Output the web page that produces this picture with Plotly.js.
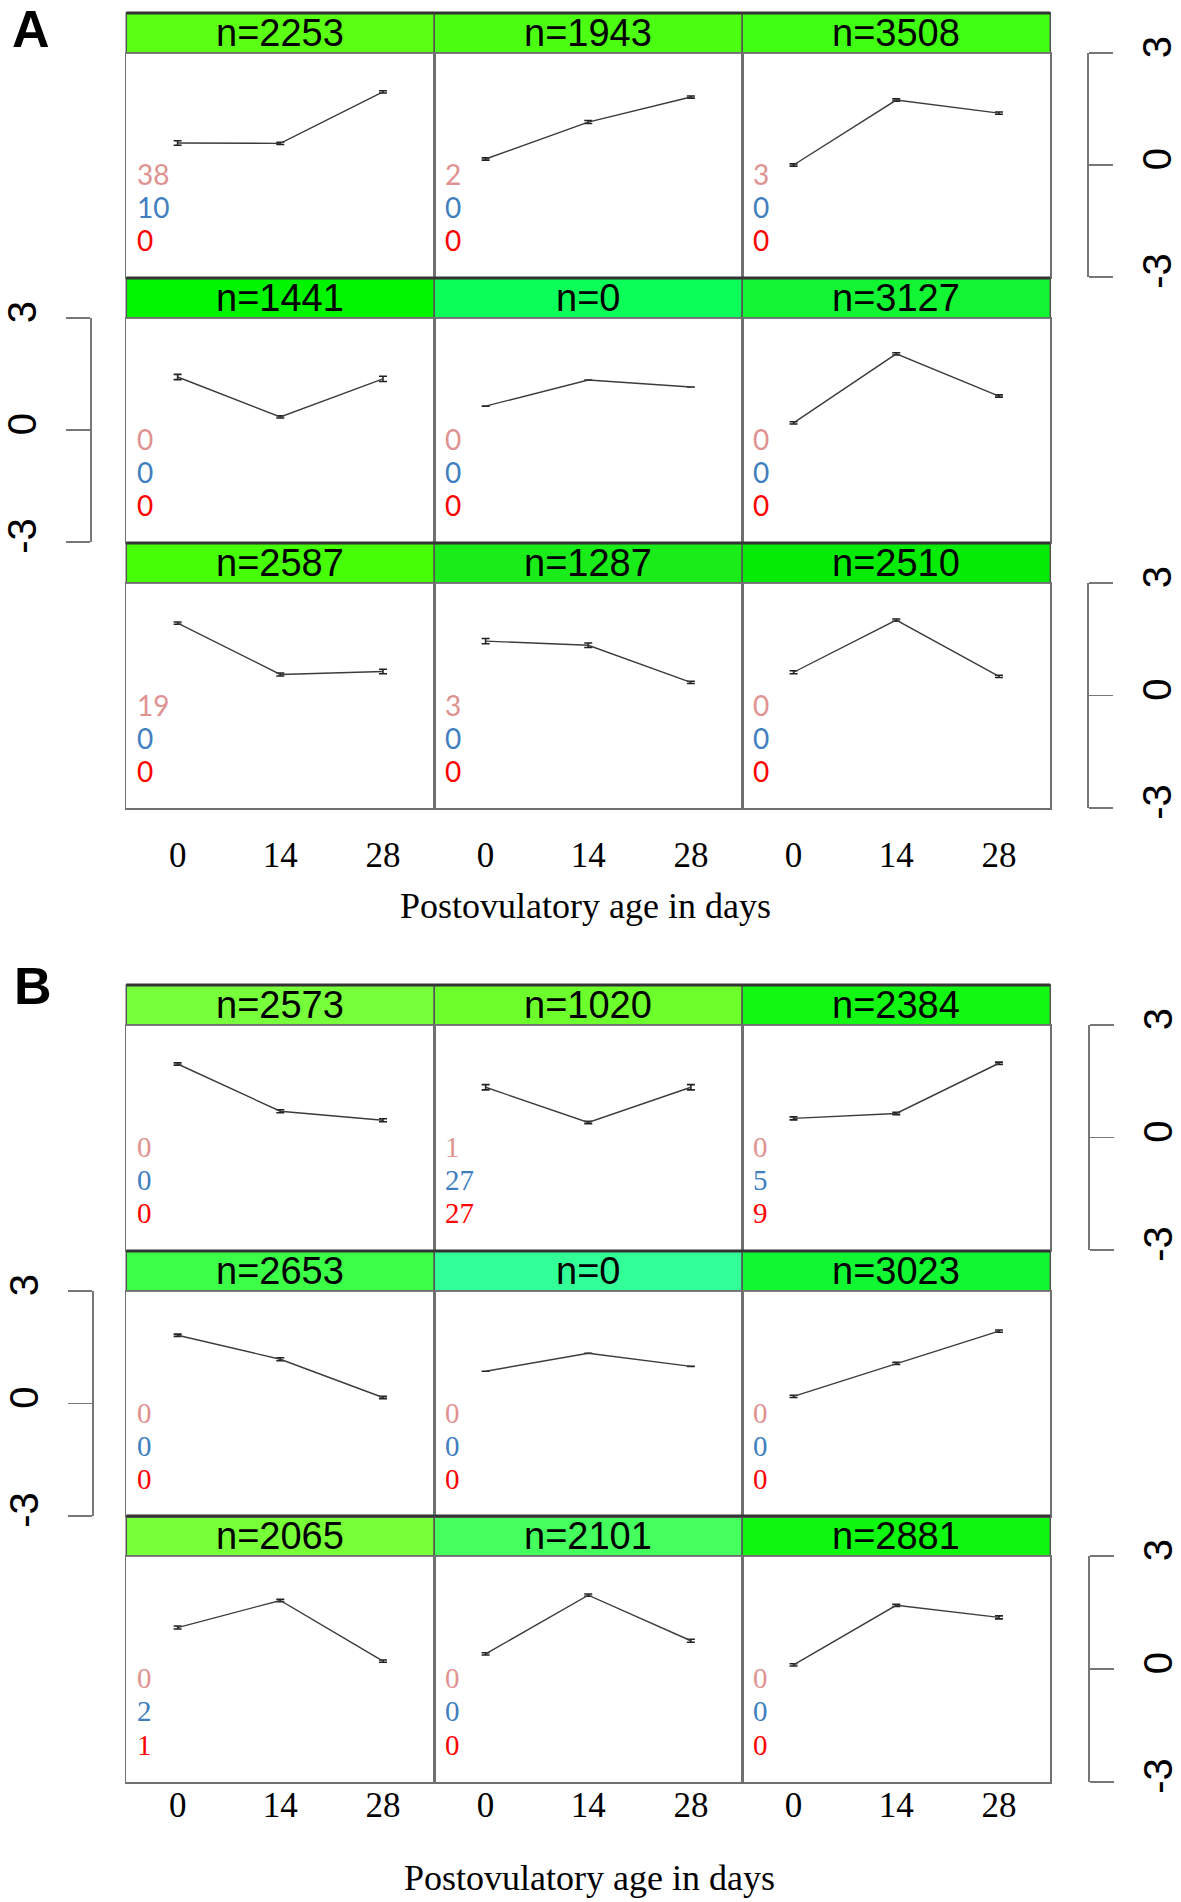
<!DOCTYPE html>
<html>
<head>
<meta charset="utf-8">
<script src="https://cdn.plot.ly/plotly-3.0.1.min.js"></script>
<style>html,body{margin:0;padding:0;background:#fff;}#chart{width:1181px;height:1902px;}</style>
</head>
<body>
<div id="chart"></div>
<script>
// ---------- DATA ----------
const days = [0, 14, 28];
const tickLabels = ['0', '14', '28'];
const yTicks = [-3, 0, 3];

// Panel A (clusters read row by row)
const panelA_n = [2253, 1943, 3508, 1441, 0, 3127, 2587, 1287, 2510];
const panelA_values = [
  [0.59, 0.58, 1.96], [0.16, 1.15, 1.82], [0.00, 1.74, 1.39],
  [1.42, 0.35, 1.37], [0.64, 1.34, 1.15], [0.19, 2.04, 0.91],
  [1.93, 0.56, 0.64], [1.45, 1.34, 0.35], [0.62, 2.01, 0.51]
];
const panelA_err = [
  [0.06, 0.03, 0.03], [0.03, 0.04, 0.03], [0.03, 0.03, 0.03],
  [0.07, 0.03, 0.07], [0.00, 0.00, 0.00], [0.03, 0.03, 0.03],
  [0.03, 0.04, 0.06], [0.07, 0.06, 0.03], [0.04, 0.03, 0.03]
];
const panelA_pink = [38, 2, 3, 0, 0, 0, 19, 3, 0];
const panelA_blue = [10, 0, 0, 0, 0, 0, 0, 0, 0];
const panelA_red  = [0, 0, 0, 0, 0, 0, 0, 0, 0];
const panelA_colors = ['#5aff14', '#4cff12', '#40ff12', '#00f500', '#0cff58', '#12f533', '#46ff06', '#1aec1a', '#06ec06'];

// Panel B
const panelB_n = [2573, 1020, 2384, 2653, 0, 3023, 2065, 2101, 2881];
const panelB_values = [
  [1.96, 0.70, 0.46], [1.34, 0.40, 1.34], [0.51, 0.64, 1.98],
  [1.82, 1.18, 0.16], [0.86, 1.34, 0.99], [0.19, 1.07, 1.93],
  [1.10, 1.82, 0.21], [0.40, 1.96, 0.75], [0.11, 1.69, 1.37]
];
const panelB_err = [
  [0.03, 0.04, 0.04], [0.07, 0.03, 0.07], [0.04, 0.03, 0.03],
  [0.03, 0.04, 0.03], [0.00, 0.00, 0.00], [0.03, 0.03, 0.03],
  [0.04, 0.03, 0.03], [0.03, 0.03, 0.04], [0.03, 0.03, 0.04]
];
const panelB_pink = [0, 1, 0, 0, 0, 0, 0, 0, 0];
const panelB_blue = [0, 27, 5, 0, 0, 0, 2, 0, 0];
const panelB_red  = [0, 27, 9, 0, 0, 0, 1, 0, 0];
const panelB_colors = ['#77ff3c', '#6cff2c', '#12f812', '#3cff48', '#33ff99', '#11f833', '#77ff38', '#44ff5e', '#0ff80f'];

const xTitle = 'Postovulatory age in days';

// ---------- LAYOUT GEOMETRY (pixels) ----------
const W = 1181, H = 1902;
const colEdges = [126.3, 434.3, 742.2, 1050.3];
const rowsA = [[53, 277], [318, 542], [583, 808]];
const rowsB = [[1025, 1250], [1291, 1516], [1556, 1782]];
const headerPx = 40;
const countColors = ['#e09291', '#3f7fc0', '#ff0000'];

const traces = [];
const layout = {
  width: W, height: H,
  margin: {l: 0, r: 0, t: 0, b: 0},
  paper_bgcolor: '#ffffff', plot_bgcolor: '#ffffff',
  showlegend: false,
  shapes: [], annotations: []
};

function px2x(p) { return p / W; }
function px2y(p) { return 1 - p / H; }

let k = 0;
function addPanel(rows, nArr, vals, errs, pink, blue, red, colors, countFont, tickStandoff) {
  for (let i = 0; i < 9; i++) {
    k++;
    const r = Math.floor(i / 3), c = i % 3;
    const xa = 'xaxis' + (k === 1 ? '' : k), ya = 'yaxis' + (k === 1 ? '' : k);
    const xr = 'x' + (k === 1 ? '' : k), yr = 'y' + (k === 1 ? '' : k);
    const plotH = rows[r][1] - rows[r][0];
    layout[xa] = {
      domain: [px2x(colEdges[c]), px2x(colEdges[c + 1])],
      anchor: yr, range: [-7, 35],
      showgrid: false, zeroline: false,
      showline: true, mirror: true, linecolor: '#707070', linewidth: 1.5,
      tickvals: days, ticktext: tickLabels, ticks: '',
      showticklabels: r === 2, ticklabelstandoff: tickStandoff,
      tickfont: {family: 'Liberation Serif, serif', size: 35, color: '#000'}
    };
    layout[ya] = {
      domain: [px2y(rows[r][1]), px2y(rows[r][0])],
      anchor: xr, range: [-3, 3],
      showgrid: false, zeroline: false,
      showline: true, mirror: true, linecolor: '#707070', linewidth: 1.5,
      showticklabels: false, ticks: ''
    };
    traces.push({
      x: days, y: vals[i], xaxis: xr, yaxis: yr,
      type: 'scatter', mode: 'lines',
      line: {color: '#3c3c3c', width: 1.4},
      error_y: {type: 'data', array: errs[i], visible: true, color: '#222', thickness: 1.6, width: 4},
      hoverinfo: 'skip'
    });
    const hTop = 1 + headerPx / plotH;
    layout.shapes.push({
      type: 'rect', xref: xr + ' domain', yref: yr + ' domain',
      x0: 0, x1: 1, y0: 1, y1: hTop,
      fillcolor: colors[i], line: {color: '#555', width: 1.5}, layer: 'below'
    });
    layout.shapes.push({
      type: 'line', xref: xr + ' domain', yref: yr + ' domain',
      x0: 0, x1: 1, y0: hTop, y1: hTop,
      line: {color: '#333', width: 3}
    });
    layout.annotations.push({
      xref: xr + ' domain', yref: yr + ' domain',
      x: 0.5, y: 1 + (headerPx / 2) / plotH, xanchor: 'center', yanchor: 'middle',
      text: 'n=' + nArr[i], showarrow: false,
      font: {family: 'Liberation Sans, Arial, sans-serif', size: 38, color: '#000'}
    });
    const counts = [pink[i], blue[i], red[i]];
    const cy = [0.46, 0.3125, 0.165];
    for (let j = 0; j < 3; j++) {
      layout.annotations.push({
        xref: xr + ' domain', yref: yr + ' domain',
        x: 0.028, y: cy[j], xanchor: 'left', yanchor: 'middle',
        text: String(counts[j]), showarrow: false,
        font: {family: countFont.family, size: countFont.size, color: countColors[j]}
      });
    }
  }
}

addPanel(rowsA, panelA_n, panelA_values, panelA_err, panelA_pink, panelA_blue, panelA_red, panelA_colors,
  {family: 'Lato, sans-serif', size: 28}, 15);
addPanel(rowsB, panelB_n, panelB_values, panelB_err, panelB_pink, panelB_blue, panelB_red, panelB_colors,
  {family: 'Liberation Serif, serif', size: 29}, -9);

// ---------- SIDE SCALE AXES ----------
const sideAxes = [
  {over: 1,  side: 'right', pos: 1087},
  {over: 4,  side: 'left',  pos: 90},
  {over: 7,  side: 'right', pos: 1087},
  {over: 10, side: 'right', pos: 1088},
  {over: 13, side: 'left',  pos: 92},
  {over: 16, side: 'right', pos: 1088}
];
sideAxes.forEach((s, idx) => {
  const n = 19 + idx;
  const overRef = 'y' + (s.over === 1 ? '' : s.over);
  const xRef = 'x' + (s.over === 1 ? '' : s.over);
  layout['yaxis' + n] = {
    overlaying: overRef, anchor: 'free', position: px2x(s.pos), side: s.side,
    range: [-3, 3], tickvals: yTicks, ticktext: yTicks.map(String),
    showgrid: false, zeroline: false,
    showline: true, linecolor: '#777', linewidth: 1.5,
    ticks: 'outside', ticklen: 24, tickwidth: 1.5, tickcolor: '#777',
    tickangle: -90, ticklabelstandoff: s.side === 'right' ? 10 : 14,
    tickfont: {family: 'Liberation Sans, Arial, sans-serif', size: 40, color: '#000'}
  };
  traces.push({x: [null], y: [null], xaxis: xRef, yaxis: 'y' + n, mode: 'lines', hoverinfo: 'skip', showlegend: false});
});

// ---------- TITLES & LETTERS ----------
layout.annotations.push({
  xref: 'paper', yref: 'paper', x: px2x(585), y: px2y(906), xanchor: 'center', yanchor: 'middle',
  text: xTitle, showarrow: false, font: {family: 'Liberation Serif, serif', size: 36, color: '#000'}
});
layout.annotations.push({
  xref: 'paper', yref: 'paper', x: px2x(589), y: px2y(1878), xanchor: 'center', yanchor: 'middle',
  text: xTitle, showarrow: false, font: {family: 'Liberation Serif, serif', size: 36, color: '#000'}
});
layout.annotations.push({
  xref: 'paper', yref: 'paper', x: px2x(10), y: px2y(29), xanchor: 'left', yanchor: 'middle',
  text: '<b>A</b>', showarrow: false, font: {family: 'Liberation Sans, Arial, sans-serif', size: 52, color: '#000'}
});
layout.annotations.push({
  xref: 'paper', yref: 'paper', x: px2x(12), y: px2y(986), xanchor: 'left', yanchor: 'middle',
  text: '<b>B</b>', showarrow: false, font: {family: 'Liberation Sans, Arial, sans-serif', size: 52, color: '#000'}
});

Plotly.newPlot('chart', traces, layout, {staticPlot: true, displayModeBar: false});
</script>
</body>
</html>
